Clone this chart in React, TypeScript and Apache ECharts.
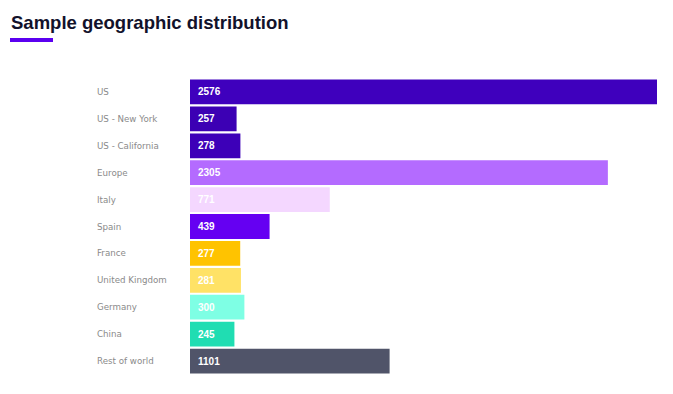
import React, { useEffect, useRef } from "react";
import * as echarts from "echarts";

const categories = [
  "US",
  "US - New York",
  "US - California",
  "Europe",
  "Italy",
  "Spain",
  "France",
  "United Kingdom",
  "Germany",
  "China",
  "Rest of world",
];
const values = [2576, 257, 278, 2305, 771, 439, 277, 281, 300, 245, 1101];
const colors = [
  "#3F00BD",
  "#3C00B4",
  "#3D00B8",
  "#B46BFF",
  "#F4D7FF",
  "#6500F2",
  "#FFC300",
  "#FFE266",
  "#7EFFE4",
  "#20DDB2",
  "#505469",
];
const titleText = "Sample geographic distribution";

export default function App() {
  const ref = useRef<HTMLDivElement>(null);
  useEffect(() => {
    if (!ref.current) return;
    const chart = echarts.init(ref.current, null, { renderer: "svg" });
    chart.setOption({
      animation: false,
      backgroundColor: "#ffffff",
      title: {
        text: titleText,
        left: 6,
        top: 8,
        textStyle: {
          fontFamily: "Liberation Sans",
          fontWeight: "bold",
          fontSize: 18.5,
          color: "#12122b",
        },
      },
      graphic: [
        {
          type: "rect",
          left: 10,
          top: 38,
          shape: { width: 43, height: 4 },
          style: { fill: "#5B00F0" },
        },
      ],
      grid: { left: 190, right: 16, top: 78.5, bottom: 394 - 374.5 },
      xAxis: {
        type: "value",
        min: 0,
        max: 2576,
        show: false,
      },
      yAxis: {
        type: "category",
        inverse: true,
        data: categories,
        axisLine: { show: false },
        axisTick: { show: false },
        splitLine: { show: false },
        axisLabel: {
          align: "left",
          margin: 93,
          color: "#8a8a8a",
          fontFamily: "DejaVu Sans",
          fontSize: 8.7,
        },
      },
      series: [
        {
          type: "bar",
          barCategoryGap: "8%",
          data: values.map((v, i) => ({ value: v, itemStyle: { color: colors[i] } })),
          label: {
            show: true,
            position: "insideLeft",
            distance: 8,
            color: "#ffffff",
            fontFamily: "Liberation Sans",
            fontWeight: "bold",
            fontSize: 10,
          },
        },
      ],
    });
    return () => chart.dispose();
  }, []);
  return (
    <div
      ref={ref}
      style={{ position: "fixed", left: 0, top: 0, width: 673, height: 394 }}
    />
  );
}
